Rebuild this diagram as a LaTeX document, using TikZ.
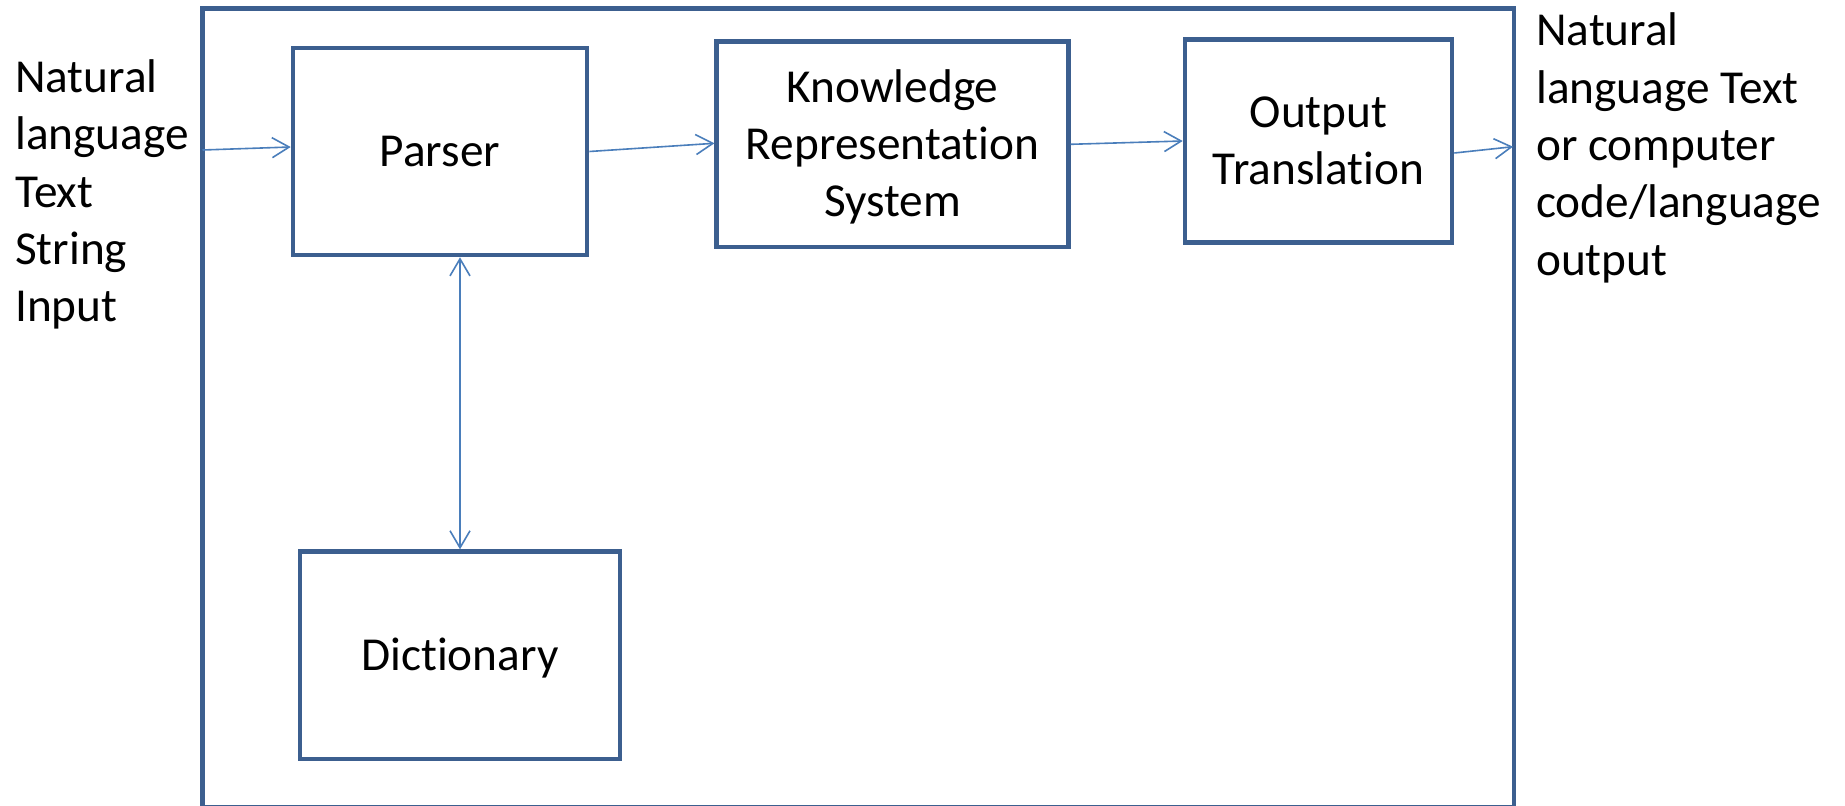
\documentclass[tikz,border=0pt]{standalone}
\usepackage{fontspec}
\setmainfont{Carlito}[Ligatures=NoCommon]
\usetikzlibrary{arrows.meta}
\definecolor{boxblue}{HTML}{3C5F8F}
\definecolor{linkblue}{HTML}{4A7EBB}
\begin{document}
\begin{tikzpicture}[x=1pt,y=-1pt,
  txt/.style={font=\fontsize{47.3}{57.3}\selectfont, text=black},
  stage/.style={txt, draw=boxblue, line width=4.6pt, rectangle, inner sep=0pt, align=center, text depth=0pt},
  flow/.style={draw=linkblue, line width=1.6pt, -{Straight Barb[length=17pt,width=20pt]}},
  twoway/.style={draw=linkblue, line width=1.6pt, {Straight Barb[length=17pt,width=20pt]}-{Straight Barb[length=17pt,width=20pt]}},
  side/.style={txt, inner sep=0pt, align=left, anchor=base west}]
\clip (0,0) rectangle (1845,806);
\fill[white] (0,0) rectangle (1845,806);

% enclosing system frame
\node[draw=boxblue, line width=4.6pt, rectangle, inner sep=0pt,
      minimum width=1311.5pt, minimum height=799.3pt] (frame) at (858.3,407.9) {};

% processing stages (text height spans first cap top to last baseline)
\node[stage, text height=30.5pt, minimum width=294pt, minimum height=207pt] (parser) at (440,151.5) {Parser};
\node[stage, text height=145pt, minimum width=351.6pt, minimum height=205.4pt] (krs) at (892.5,144.3) {Knowledge\\Representation\\System};
\node[stage, text height=87.8pt, minimum width=267pt, minimum height=203pt] (outtr) at (1318.5,141) {Output\\Translation};
\node[stage, text height=30.5pt, minimum width=320pt, minimum height=207.3pt] (dict) at (460,655.3) {Dictionary};

% external input and output (anchored at the last baseline)
\node[side] (input) at (15,321.7) {Natural\\language\\Text\\String\\Input};
\node[side] (output) at (1536,275) {Natural\\language Text\\or computer\\code/language\\output};

% connector end points on the frame
\coordinate (inport) at (202.5,150);
\coordinate (outport) at (1513,146.7);

% data flow
\draw[flow] (inport) -- ([yshift=4.5pt]parser.west);
\draw[flow] (parser.east) -- ([yshift=1pt]krs.west);
\draw[flow] (krs.east) -- (outtr.west);
\draw[flow] ([yshift=-12pt]outtr.east) -- (outport);
\draw[twoway] (dict.north |- parser.south) -- (dict.north);
\end{tikzpicture}
\end{document}
